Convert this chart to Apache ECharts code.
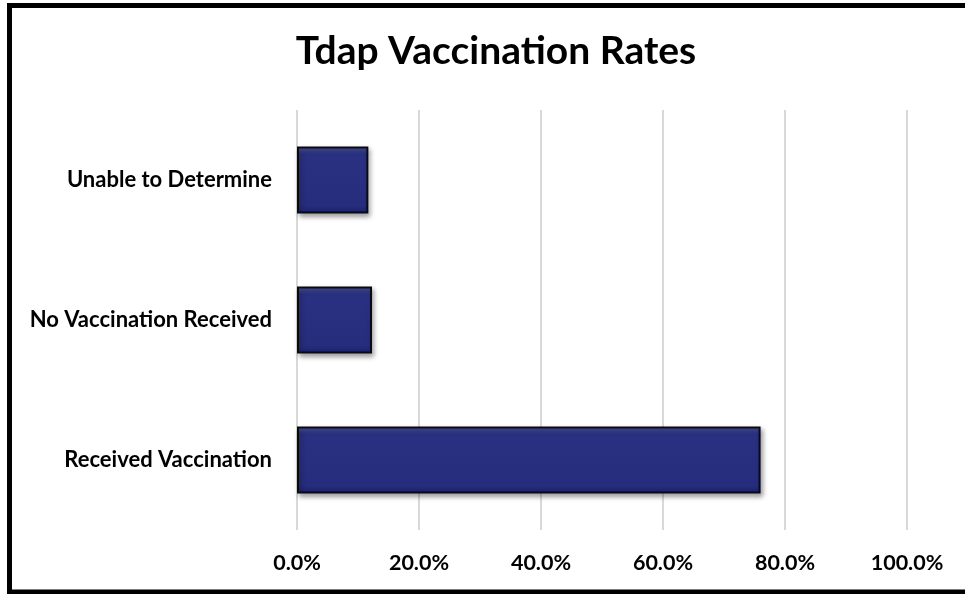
<!DOCTYPE html>
<html>
<head>
<meta charset="utf-8">
<script src="https://cdn.jsdelivr.net/npm/echarts@6/dist/echarts.min.js"></script>
<style>
  html, body { margin: 0; padding: 0; background: #fff; }
  #chart { width: 965px; height: 594px; }
</style>
</head>
<body>
<div id="chart"></div>
<script>
// Tdap vaccination outcome shares (percent)
const categories = ['Received Vaccination', 'No Vaccination Received', 'Unable to Determine'];
const rates = [76.0, 12.3, 11.7];
const tickMax = 100;
const tickStep = 20;

const chart = echarts.init(document.getElementById('chart'));
const fontFamily = 'Lato, "Open Sans", sans-serif';

chart.setOption({
  animation: false,
  backgroundColor: '#ffffff',
  title: {
    text: 'Tdap Vaccination Rates',
    left: 491,
    top: 27,
    textAlign: 'center',
    textStyle: { fontFamily, fontWeight: 'bold', fontSize: 39, color: '#000' }
  },
  grid: { left: 297, right: 58, top: 110, bottom: 64 },
  xAxis: {
    type: 'value',
    min: 0,
    max: tickMax,
    interval: tickStep,
    axisLine: { show: false },
    axisTick: { show: false },
    splitLine: { lineStyle: { color: '#d9d9d9', width: 2 } },
    axisLabel: {
      margin: 22,
      fontFamily, fontWeight: 'bold', fontSize: 21.5, color: '#000',
      formatter: v => v.toFixed(1) + '%'
    }
  },
  yAxis: {
    type: 'category',
    data: categories,
    axisLine: { show: false },
    axisTick: { show: false },
    axisLabel: { margin: 25, fontFamily, fontWeight: 'bold', fontSize: 22, color: '#000' }
  },
  series: [{
    type: 'bar',
    data: rates,
    barWidth: '48%',
    itemStyle: {
      color: {
        type: 'linear', x: 0, y: 0, x2: 0, y2: 1,
        colorStops: [
          { offset: 0, color: '#4a52a8' },
          { offset: 0.12, color: '#2a3182' },
          { offset: 0.88, color: '#262d7c' },
          { offset: 1, color: '#1c2266' }
        ]
      },
      borderColor: '#0a0a14',
      borderWidth: 2,
      shadowColor: 'rgba(0,0,0,0.35)',
      shadowBlur: 5,
      shadowOffsetX: 2,
      shadowOffsetY: 3
    }
  }],
  graphic: [{
    type: 'rect',
    shape: { x: 9.5, y: 5.5, width: 1000, height: 586.5 },
    style: { fill: 'none', stroke: '#000', lineWidth: 5 },
    silent: true
  }]
});
</script>
</body>
</html>
